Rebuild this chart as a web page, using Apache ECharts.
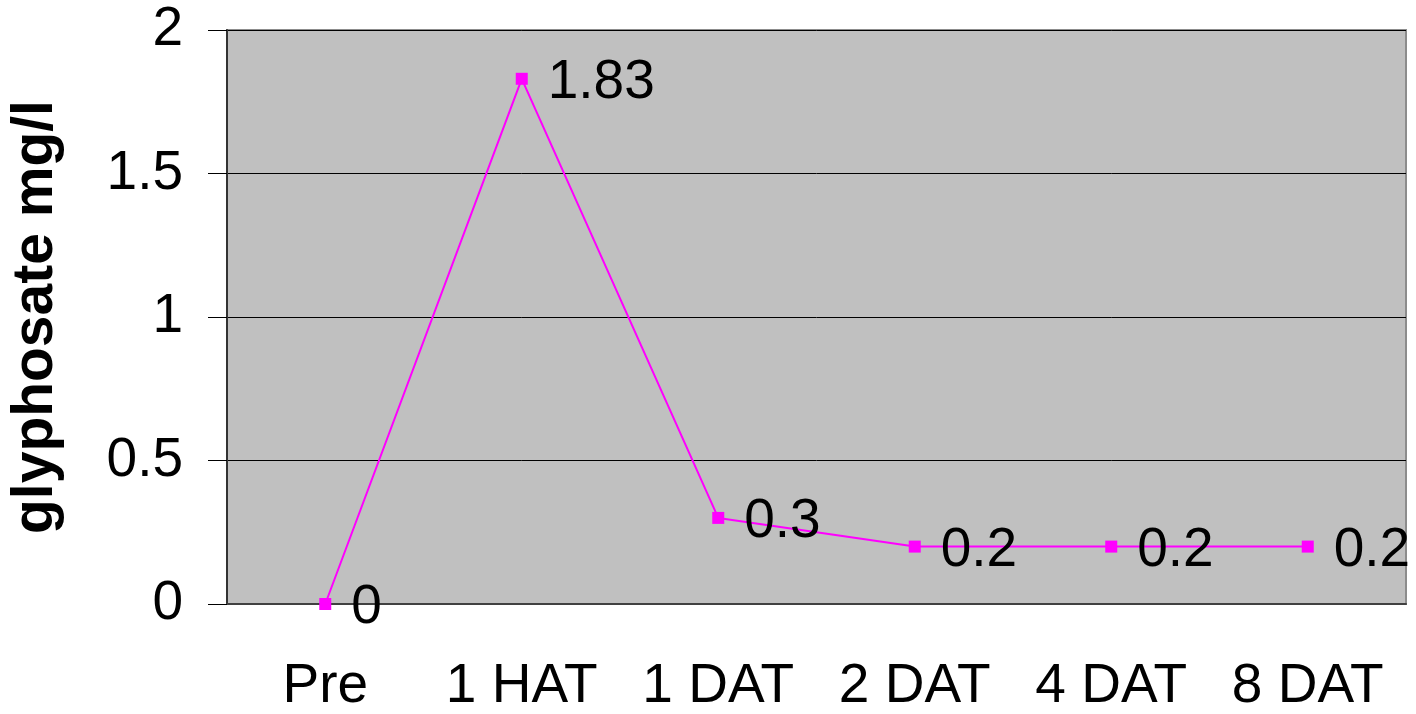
<!DOCTYPE html>
<html style="height: 100%">
<head>
    <meta charset="utf-8">
</head>
<body style="height: 100%; margin: 0; background-color: #fff">
<div id="container" style="height: 714px; width: 1416px"></div>
<script type="text/javascript" src="https://cdn.jsdelivr.net/npm/echarts@6/dist/echarts.min.js"></script>
<script type="text/javascript">
var categories = ['Pre', '1 HAT', '1 DAT', '2 DAT', '4 DAT', '8 DAT'];
var glyphosate = [0, 1.83, 0.3, 0.2, 0.2, 0.2];
var yTicks = [0, 0.5, 1, 1.5, 2];

var font = 'Liberation Sans, Arial, sans-serif';
var myChart = echarts.init(document.getElementById('container'));

var option = {
    animation: false,
    grid: {
        left: 227,
        right: 10,
        top: 30,
        bottom: 105,
        show: true,
        backgroundColor: '#c0c0c0',
        borderColor: '#8c8c8c',
        borderWidth: 2
    },
    xAxis: {
        type: 'category',
        data: categories,
        boundaryGap: true,
        axisLine: { lineStyle: { color: '#404040', width: 2 } },
        axisTick: { show: false },
        axisLabel: {
            interval: 0,
            color: '#000',
            fontFamily: font,
            fontSize: 55,
            margin: 55
        }
    },
    yAxis: {
        type: 'value',
        min: yTicks[0],
        max: yTicks[yTicks.length - 1],
        interval: 0.5,
        name: 'glyphosate mg/l',
        nameLocation: 'middle',
        nameGap: 162,
        nameTextStyle: {
            color: '#000',
            fontFamily: font,
            fontSize: 57,
            fontWeight: 'bold'
        },
        axisLine: { show: true, lineStyle: { color: '#333', width: 2 } },
        axisTick: { show: true, length: 19, lineStyle: { color: '#000', width: 1 } },
        axisLabel: {
            color: '#000',
            fontFamily: font,
            fontSize: 55,
            margin: 44
        },
        splitLine: { lineStyle: { color: '#000', width: 1 } }
    },
    series: [{
        type: 'line',
        data: glyphosate,
        symbol: 'rect',
        symbolSize: 12,
        itemStyle: { color: '#ff00ff' },
        lineStyle: { color: '#ff00ff', width: 2 },
        label: {
            show: true,
            position: 'right',
            distance: 20,
            offset: [0, 4],
            color: '#000',
            fontFamily: font,
            fontSize: 55
        }
    }]
};
myChart.setOption(option);
</script>
</body>
</html>
